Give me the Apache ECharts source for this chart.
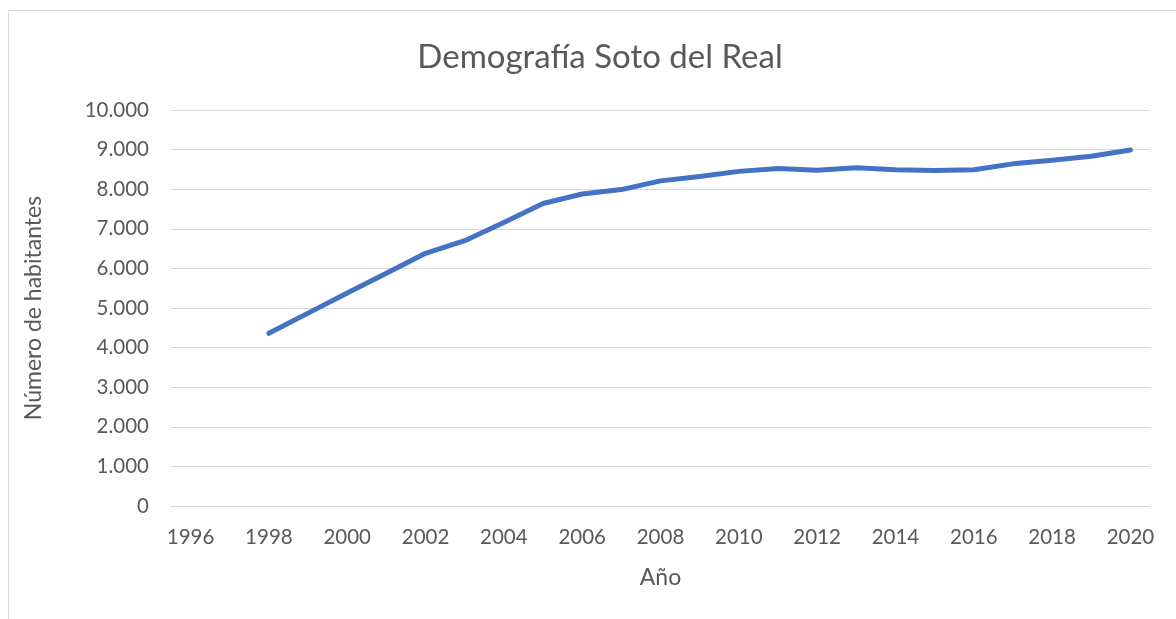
<!DOCTYPE html>
<html>
<head>
<meta charset="utf-8">
<script src="https://cdn.jsdelivr.net/npm/echarts@6/dist/echarts.min.js"></script>
<style>
  html, body { margin: 0; padding: 0; background: #ffffff; }
  #chart { width: 1176px; height: 619px; }
</style>
</head>
<body>
<div id="chart"></div>
<script>
// Padrón municipal de Soto del Real, habitantes por año
const years = ['1996', '1997', '1998', '1999', '2000', '2001', '2002', '2003', '2004',
  '2005', '2006', '2007', '2008', '2009', '2010', '2011', '2012', '2013', '2014',
  '2015', '2016', '2017', '2018', '2019', '2020'];
const habitantes = [null, null, 4360, 4870, 5380, 5880, 6380, 6700, 7160,
  7640, 7880, 7990, 8210, 8320, 8450, 8520, 8480, 8540, 8490,
  8470, 8490, 8640, 8730, 8830, 8990];
const yTicks = { min: 0, max: 10000, step: 1000 };

const grey = '#595959';
const font = 'Lato, "Open Sans", sans-serif';

const chart = echarts.init(document.getElementById('chart'), null, { renderer: 'canvas' });
chart.setOption({
  backgroundColor: '#ffffff',
  animation: false,
  graphic: [{
    type: 'rect',
    shape: { x: 8.5, y: 10.5, width: 1180, height: 620 },
    style: { fill: 'none', stroke: '#d9d9d9', lineWidth: 1 },
    silent: true
  }],
  title: {
    text: 'Demografía Soto del Real',
    left: 595,
    top: 36,
    textAlign: 'center',
    textStyle: { color: grey, fontFamily: font, fontSize: 33, fontWeight: 'normal' }
  },
  grid: { left: 171, right: 26, top: 110, bottom: 113, containLabel: false },
  xAxis: {
    type: 'category',
    data: years,
    boundaryGap: true,
    name: 'Año',
    nameLocation: 'middle',
    nameGap: 60,
    nameTextStyle: { color: grey, fontFamily: font, fontSize: 23 },
    axisLine: { show: true, lineStyle: { color: '#d9d9d9', width: 1 } },
    axisTick: { show: false },
    axisLabel: { interval: 1, color: grey, fontFamily: font, fontSize: 20.5, margin: 21 },
    splitLine: { show: false }
  },
  yAxis: {
    type: 'value',
    min: yTicks.min,
    max: yTicks.max,
    interval: yTicks.step,
    name: 'Número de habitantes',
    nameLocation: 'middle',
    nameRotate: 90,
    nameGap: 126,
    nameTextStyle: { color: grey, fontFamily: font, fontSize: 23 },
    axisLine: { show: false },
    axisTick: { show: false },
    axisLabel: {
      color: grey, fontFamily: font, fontSize: 20.5, margin: 22,
      formatter: v => String(v).replace(/\B(?=(\d{3})+(?!\d))/g, '.')
    },
    splitLine: { lineStyle: { color: '#d9d9d9', width: 1 } }
  },
  series: [{
    type: 'line',
    data: habitantes,
    showSymbol: false,
    symbol: 'none',
    connectNulls: false,
    lineStyle: { color: '#4472c4', width: 5, cap: 'round', join: 'round' },
    itemStyle: { color: '#4472c4' }
  }]
});
</script>
</body>
</html>
